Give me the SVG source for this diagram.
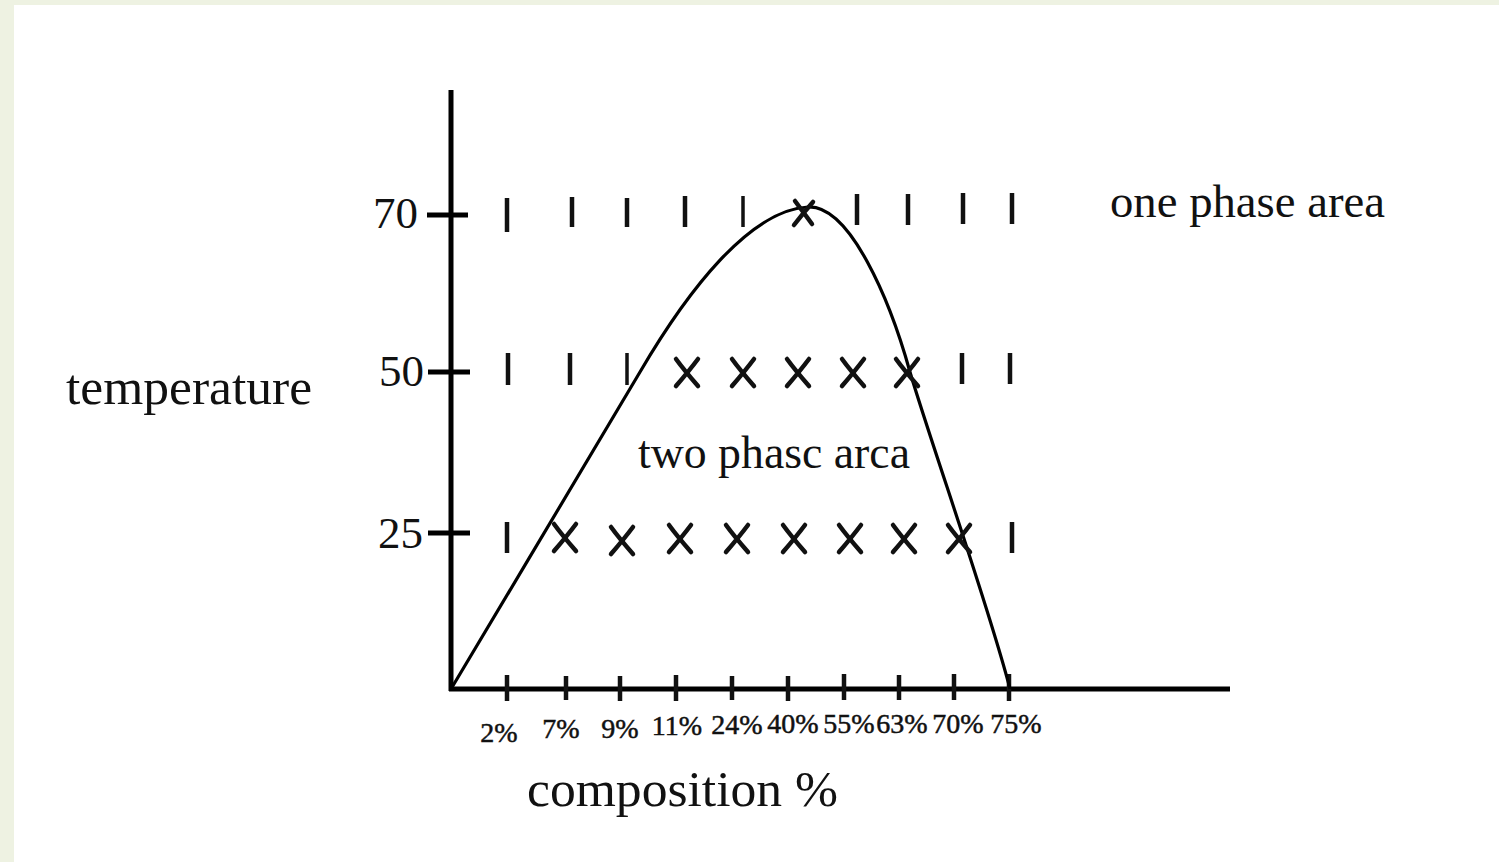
<svg xmlns="http://www.w3.org/2000/svg" width="1499" height="862" viewBox="0 0 1499 862">
<style>
.t{font-family:"Liberation Serif","Times New Roman",serif;fill:#111}
.ax{stroke:#000;stroke-width:5;fill:none}
.tk{stroke:#111;stroke-width:4.5;stroke-linecap:butt}
.x{stroke:#111;stroke-width:4.5;stroke-linecap:round;fill:none}
.curve{stroke:#000;stroke-width:3.2;fill:none;stroke-linejoin:round}
.xl{stroke:#111;stroke-width:0.5}
</style>
<defs>
<g id="xm"><path class="x" d="M-11,-13 Q-3,-2 11,14 M11,-13 Q2,-1 -11,14"/></g>
</defs>
<rect x="0" y="0" width="1499" height="862" fill="#ffffff"/>
<rect x="0" y="0" width="1499" height="5" fill="#eef2e2"/>
<rect x="0" y="0" width="14" height="862" fill="#eef2e2"/>

<g id="axes">
<line class="ax" x1="451" y1="90" x2="451" y2="691"/>
<line class="ax" x1="449" y1="689" x2="1230" y2="689"/>
<line class="ax" x1="427" y1="215" x2="468" y2="215"/>
<line class="ax" x1="428" y1="372" x2="470" y2="372"/>
<line class="ax" x1="428" y1="533" x2="470" y2="533"/>
<g class="tk">
<line x1="507" y1="675" x2="507" y2="701"/>
<line x1="566" y1="676" x2="566" y2="700"/>
<line x1="620" y1="676" x2="620" y2="701"/>
<line x1="676" y1="675" x2="676" y2="701"/>
<line x1="732" y1="676" x2="732" y2="700"/>
<line x1="788" y1="676" x2="788" y2="701"/>
<line x1="844" y1="674" x2="844" y2="700"/>
<line x1="899" y1="675" x2="899" y2="700"/>
<line x1="954" y1="674" x2="954" y2="700"/>
<line x1="1009" y1="674" x2="1009" y2="701"/>
</g>
</g>

<g id="y-labels">
<text class="t" x="373" y="228" font-size="45">70</text>
<text class="t" x="379" y="386" font-size="45">50</text>
<text class="t" x="378" y="548" font-size="45">25</text>
</g>

<g id="x-labels" class="t xl" font-size="28" text-anchor="middle">
<text x="499" y="742">2%</text>
<text x="561" y="738">7%</text>
<text x="620" y="738">9%</text>
<text x="677" y="735">11%</text>
<text x="737" y="734">24%</text>
<text x="793" y="733">40%</text>
<text x="849" y="733">55%</text>
<text x="902" y="733">63%</text>
<text x="958" y="733">70%</text>
<text x="1016" y="733">75%</text>
</g>

<g id="phase-curve">
<path class="curve" d="M451,689 C510,590 600,440 640,372 C688,290 750,210 808,207 C850,205 890,300 910,372 C930,440 990,610 1010,689"/>
</g>

<g id="row-70">
<g class="tk">
<line x1="507" y1="198" x2="507" y2="232"/>
<line x1="572" y1="197" x2="572" y2="227"/>
<line x1="627" y1="198" x2="627" y2="227"/>
<line x1="685" y1="196" x2="685" y2="227"/>
<line x1="743" y1="196" x2="743" y2="227" stroke-width="3.5"/>
<line x1="857" y1="194" x2="857" y2="225"/>
<line x1="908" y1="194" x2="908" y2="225"/>
<line x1="963" y1="193" x2="963" y2="224"/>
<line x1="1012" y1="193" x2="1012" y2="224"/>
</g>
<path class="x" stroke-width="3.5" d="M795,201 Q801,209 812,224 M813,202 Q804,212 794,225"/>
</g>

<g id="row-50">
<g class="tk">
<line x1="508" y1="353" x2="508" y2="385"/>
<line x1="570" y1="353" x2="570" y2="385"/>
<line x1="627" y1="353" x2="627" y2="385" stroke-width="3.5"/>
<line x1="962" y1="353" x2="962" y2="384"/>
<line x1="1010" y1="353" x2="1010" y2="384"/>
</g>
<use href="#xm" x="687" y="372"/>
<use href="#xm" x="743" y="372"/>
<use href="#xm" x="798" y="372"/>
<use href="#xm" x="853" y="372"/>
<use href="#xm" x="907" y="372"/>
</g>

<g id="row-25">
<g class="tk">
<line x1="507" y1="522" x2="507" y2="553"/>
<line x1="1012" y1="522" x2="1012" y2="553"/>
</g>
<use href="#xm" x="565" y="537"/>
<use href="#xm" x="622" y="540"/>
<use href="#xm" x="680" y="538"/>
<use href="#xm" x="737" y="538"/>
<use href="#xm" x="794" y="538"/>
<use href="#xm" x="850" y="538"/>
<use href="#xm" x="904" y="538"/>
<use href="#xm" x="959" y="538"/>
</g>

<g id="labels">
<text id="one-phase" class="t" x="1110" y="217" font-size="46" textLength="275" lengthAdjust="spacingAndGlyphs">one phase area</text>
<text id="two-phase" class="t" x="638" y="468" font-size="46" textLength="272" lengthAdjust="spacingAndGlyphs">two phasc arca</text>
<text id="temperature" class="t" x="66" y="404" font-size="50" textLength="246" lengthAdjust="spacingAndGlyphs">temperature</text>
<text id="composition" class="t" x="527" y="806" font-size="50" textLength="311" lengthAdjust="spacingAndGlyphs">composition %</text>
</g>
</svg>
